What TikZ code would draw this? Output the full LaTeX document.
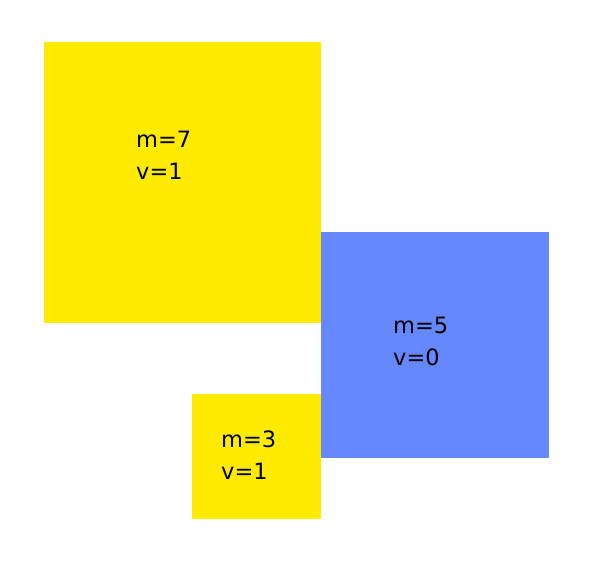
\documentclass[tikz,border=0pt]{standalone}
\usepackage{fontspec}
\setmainfont{DejaVu Sans}
\definecolor{boxyellow}{RGB}{255,235,0}
\definecolor{boxblue}{RGB}{102,136,255}
\begin{document}
\begin{tikzpicture}[x=1pt,y=-1pt,
  lbl/.style={inner sep=0pt, anchor=base west, align=left, font=\fontsize{22.5}{32}\selectfont}]
\useasboundingbox (0,0) rectangle (600,568);
\fill[white] (0,0) rectangle (600,568);
\path[fill=boxyellow] (44,42) rectangle (320.5,322.5);
\path[fill=boxblue] (320.5,232) rectangle (548.5,457.5);
\path[fill=boxyellow] (192,393.5) rectangle (320.5,518.5);
\node[lbl] (t7) at (136,179) {m=7\\v=1};
\node[lbl] (t5) at (393,365) {m=5\\v=0};
\node[lbl] (t3) at (221,479) {m=3\\v=1};
\end{tikzpicture}
\end{document}
